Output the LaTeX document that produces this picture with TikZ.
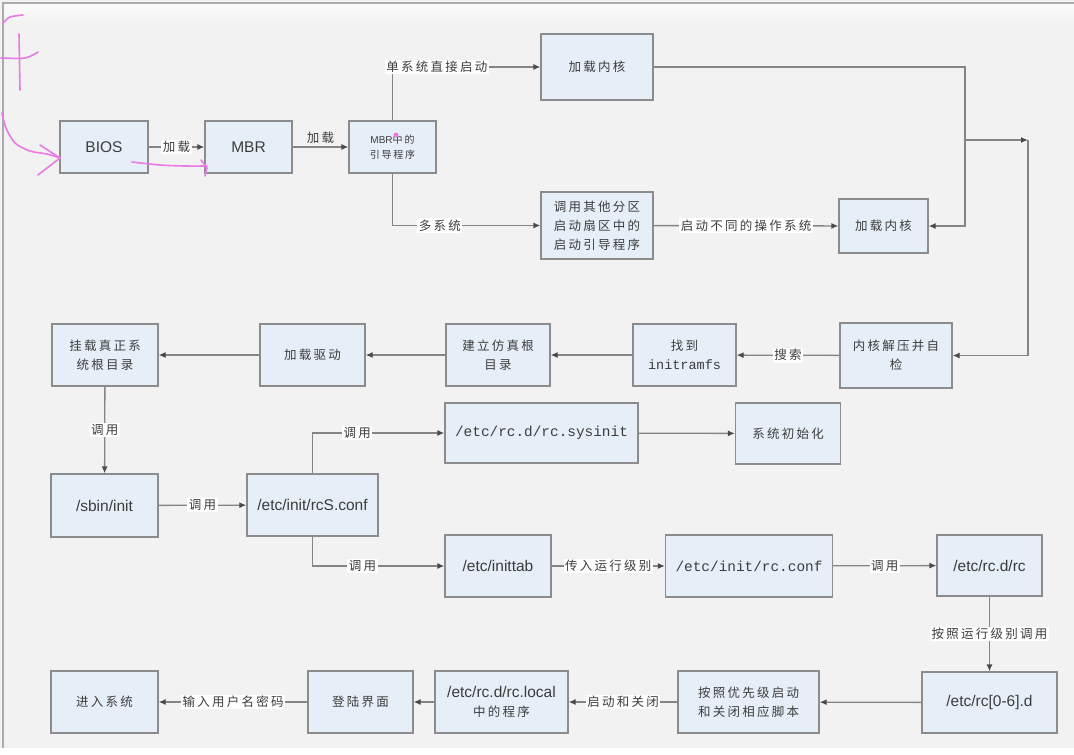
\documentclass[tikz,border=0pt]{standalone}
\usepackage{fontspec}
\setmainfont{Liberation Sans}
\newfontfamily\cjk[LetterSpace=18]{Noto Sans CJK SC}
\newfontfamily\mono{Liberation Mono}
\usetikzlibrary{arrows.meta}
\definecolor{bg}{HTML}{F2F2F2}
\definecolor{boxfill}{HTML}{E6EFF8}
\definecolor{boxline}{HTML}{8C8C8C}
\definecolor{wire}{HTML}{858585}
\definecolor{tip}{HTML}{4A4A4A}
\definecolor{txt}{HTML}{3C3C3C}
\definecolor{framegray}{HTML}{ABABAB}
\definecolor{ink}{HTML}{E87AE6}
\tikzset{
  box/.style={draw=boxline, fill=boxfill, line width=1.3pt, align=center, text=txt, inner sep=2pt},
  cn/.style={font=\cjk\fontsize{12.5}{19}\selectfont},
  en/.style={font=\fontsize{15.5}{19}\selectfont},
  tt/.style={font=\mono\fontsize{14.4}{19}\selectfont},
  flow/.style={draw=wire, line width=1.3pt, -{Latex[length=7pt,width=6pt,color=tip]}},
  lbl/.style={fill=white, inner sep=1.5pt, text=txt, font=\cjk\fontsize{12.5}{15}\selectfont},
  hand/.style={draw=ink, line width=1.6pt, line cap=round, line join=round},
}
\begin{document}
\begin{tikzpicture}[x=1pt, y=-1pt]
    % Screen
    \useasboundingbox (0,0) rectangle (1074,755);
    \fill[bg] (0,0) rectangle (1074,748);
    \shade[top color=white!60!bg, bottom color=bg] (4,4) rectangle (1074,26);
    \fill[white] (0,748) rectangle (1074,755);
    \draw[framegray, line width=2.5pt] (3,748) -- (3,3) -- (1074,3);

    % Boot loader
    \node[box, en, minimum width=88, minimum height=52] (bios) at (104,147) {BIOS};
    \node[box, en, minimum width=87, minimum height=52] (mbr) at (248.5,147) {MBR};
    \node[box, font=\cjk\fontsize{10}{15}\selectfont, minimum width=87, minimum height=52] (mbrboot) at (392.5,147) {{\rmfamily\fontsize{10}{15}\selectfont MBR}中的\\引导程序};
    \node[box, cn, minimum width=112, minimum height=66] (kernA) at (597,67) {加载内核};
    \node[box, cn, minimum width=112, minimum height=67] (other) at (597,225.5) {调用其他分区\\启动扇区中的\\启动引导程序};
    \node[box, cn, minimum width=89, minimum height=54] (kernB) at (883.5,226) {加载内核};

    \draw[flow] (bios) -- node[lbl]{加载} (mbr);
    \draw[flow] (mbr) -- node[lbl, above=1pt, fill=none]{加载} (mbrboot);
    \draw[flow] (mbrboot.north) |- node[lbl, pos=0.65]{单系统直接启动} (kernA.west);
    \draw[flow] (mbrboot.south) |- node[lbl, pos=0.66]{多系统} (other.west);
    \draw[flow] (other) -- node[lbl]{启动不同的操作系统} (kernB);

    % Kernel
    \coordinate (join) at (965,140);
    \coordinate (turn) at (1028,140);
    \draw[flow] (kernA.east) -| (join) |- (kernB.east);
    \draw[flow] (join) -- (turn);
    \node[box, cn, minimum width=112, minimum height=65] (unpack) at (896,355.5) {内核解压并自\\检};
    \draw[flow] (turn) |- (unpack.east);

    % Root file system
    \node[box, cn, minimum width=103, minimum height=62] (initrd) at (684.5,355) {找到\\{\mono\fontsize{13.5}{19}\selectfont initramfs}};
    \node[box, cn, minimum width=104, minimum height=62] (fakeroot) at (498,355) {建立仿真根\\目录};
    \node[box, cn, minimum width=105, minimum height=62] (driver) at (312.5,355) {加载驱动};
    \node[box, cn, minimum width=106, minimum height=62] (realroot) at (105,355) {挂载真正系\\统根目录};

    \draw[flow] (unpack) -- node[lbl]{搜索} (initrd);
    \draw[flow] (initrd) -- (fakeroot);
    \draw[flow] (fakeroot) -- (driver);
    \draw[flow] (driver) -- (realroot);

    % init
    \node[box, en, minimum width=107, minimum height=63] (sbininit) at (104.5,505.5) {/sbin/init};
    \node[box, en, minimum width=131, minimum height=62] (rcs) at (312.5,505) {/etc/init/rcS.conf};
    \node[box, tt, minimum width=193, minimum height=60] (sysinit) at (541.5,433) {/etc/rc.d/rc.sysinit};
    \node[box, cn, minimum width=105, minimum height=61] (sysdone) at (788,433.5) {系统初始化};
    \node[box, en, minimum width=106, minimum height=62] (inittab) at (498,566) {/etc/inittab};
    \node[box, tt, minimum width=167, minimum height=62] (rcconf) at (749,566) {/etc/init/rc.conf};
    \node[box, en, minimum width=105, minimum height=61] (rcmain) at (989.5,565.5) {/etc/rc.d/rc};

    \draw[flow] (realroot) -- node[lbl]{调用} (sbininit);
    \draw[flow] (sbininit) -- node[lbl]{调用} (rcs);
    \draw[flow] (rcs.north) |- node[lbl, pos=0.67]{调用} (sysinit.west);
    \draw[flow] (sysinit) -- (sysdone);
    \draw[flow] (rcs.south) |- node[lbl, pos=0.69]{调用} (inittab.west);
    \draw[flow] (inittab) -- node[lbl]{传入运行级别} (rcconf);
    \draw[flow] (rcconf) -- node[lbl]{调用} (rcmain);

    % Run level scripts and login
    \node[box, en, minimum width=135, minimum height=61] (rclevel) at (989.5,702.5) {/etc/rc[0-6].d};
    \node[box, cn, minimum width=141, minimum height=62] (scripts) at (748.5,702) {按照优先级启动\\和关闭相应脚本};
    \node[box, en, minimum width=133, minimum height=62] (rclocal) at (501.5,702) {/etc/rc.d/rc.local\\{\cjk\fontsize{12.5}{19}\selectfont 中的程序}};
    \node[box, cn, minimum width=105, minimum height=62] (login) at (360.5,702) {登陆界面};
    \node[box, cn, minimum width=107, minimum height=62] (enter) at (104.5,702) {进入系统};

    \draw[flow] (rcmain) -- node[lbl]{按照运行级别调用} (rclevel);
    \draw[flow] (rclevel) -- (scripts);
    \draw[flow] (scripts) -- node[lbl]{启动和关闭} (rclocal);
    \draw[flow] (rclocal) -- (login);
    \draw[flow] (login) -- node[lbl]{输入用户名密码} (enter);

    % Pen marks
    \draw[hand] plot[smooth] coordinates {(23,15) (10,17) (3,23)};
    \draw[hand] (19,34) -- (20,90);
    \draw[hand] plot[smooth] coordinates {(1,58) (25,58) (38,52)};
    \draw[hand] plot[smooth] coordinates {(2,113) (6,128) (15,143) (30,151) (47,154) (60,158)};
    \draw[hand] (40,145) -- (60,158) -- (38,175);
    \draw[hand] plot[smooth] coordinates {(132,162) (160,165) (185,166) (207,166)};
    \draw[hand] (201,160) -- (207,168) -- (205,176);
    \fill[ink] (396,135) circle (2.5);
\end{tikzpicture}
\end{document}
